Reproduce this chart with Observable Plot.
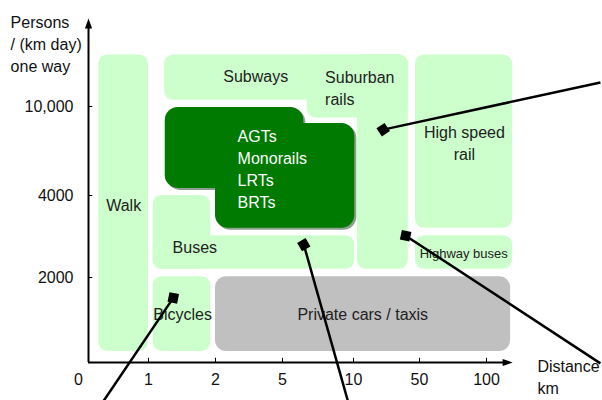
<!DOCTYPE html>
<html><head><meta charset="utf-8">
<script src="https://cdn.jsdelivr.net/npm/d3@7"></script>
<script src="https://cdn.jsdelivr.net/npm/@observablehq/plot@0.6"></script>
<style>body{margin:0;background:#fff}</style>
</head><body><div id="chart"></div>
<script>
// Axis categories (slot index -> label)
const xTickSlots = [0, 1, 2, 3, 4, 5, 6];
const xTickLabels = ["0", "1", "2", "5", "10", "50", "100"];
const yTickSlots = [1, 2, 3];
const yTickLabels = ["2000", "4000", "10,000"];
const axisOrigin = 0.143;   // where the axes cross (slot units)
const xAxisEnd = 6.30;
const yAxisEnd = 3.92;

// Ranges of each mode (slot units): distance range x1..x2, volume range y1..y2
const lightBoxes = [
  {name: "Walk",            x1: 0.29, x2: 1.00, y1: 0.13, y2: 3.58},
  {name: "Bicycles",        x1: 1.07, x2: 1.93, y1: 0.13, y2: 1.01},
  {name: "Buses (short)",   x1: 1.07, x2: 1.93, y1: 1.10, y2: 2.00},
  {name: "Buses",           x1: 1.07, x2: 4.02, y1: 1.10, y2: 1.51},
  {name: "Subways",         x1: 1.24, x2: 4.83, y1: 3.07, y2: 3.58},
  {name: "Subways (long)",  x1: 3.35, x2: 4.83, y1: 2.87, y2: 3.58},
  {name: "Suburban rails",  x1: 4.06, x2: 4.83, y1: 1.10, y2: 3.58},
  {name: "High speed rail", x1: 4.94, x2: 6.39, y1: 1.60, y2: 3.58},
  {name: "Highway buses",   x1: 4.94, x2: 6.39, y1: 1.10, y2: 1.51}
];
const greyBoxes = [
  {name: "Private cars / taxis", x1: 2.00, x2: 6.36, y1: 0.13, y2: 1.01}
];
const darkBoxes = [
  {name: "AGTs (short)", x1: 1.25, x2: 3.30, y1: 2.08, y2: 2.99},
  {name: "AGTs",         x1: 2.00, x2: 4.02, y1: 1.60, y2: 2.81}
];

// Labels (slot units)
const centerLabels = [
  {text: "Walk", x: 0.645, y: 1.90},
  {text: "Subways", x: 2.60, y: 3.35},
  {text: "High speed\nrail", x: 5.67, y: 2.60},
  {text: "Bicycles", x: 1.51, y: 0.58},
  {text: "Private cars / taxis", x: 4.14, y: 0.58}
];
const leftLabels = [
  {text: "Suburban\nrails", x: 3.60, y: 3.22},
  {text: "Buses", x: 1.36, y: 1.39}
];
const smallLabels = [
  {text: "Highway buses", x: 5.66, y: 1.29}
];
const whiteLabels = [
  {text: "AGTs\nMonorails\nLRTs\nBRTs", x: 2.33, y: 2.31}
];
const axisTitles = [
  {text: "Persons\n/ (km day)\none way", x: -0.97, y: 4.06},
  {text: "Distance\nkm", x: 6.76, y: 0.07}
];

// Leader lines: diamond end (x1,y1) to far end (x2,y2)
const pointers = [
  {x1: 4.45, y1: 2.74, x2: 7.70, y2: 3.27},
  {x1: 4.79, y1: 1.51, x2: 7.70, y2: -0.01},
  {x1: 3.30, y1: 1.40, x2: 3.92, y2: -0.45},
  {x1: 1.37, y1: 0.76, x2: 0.36, y2: -0.45}
];

const fontFamily = "'Liberation Sans', Arial, sans-serif";
const arrowHead = {draw(ctx) { ctx.moveTo(0, -6); ctx.lineTo(3.6, 4); ctx.lineTo(-3.6, 4); ctx.closePath(); }};
const angleOf = (p) => Math.atan2(-(p.y2 - p.y1) * 85, (p.x2 - p.x1) * 68) * 180 / Math.PI;

const chart = Plot.plot({
  width: 602,
  height: 400,
  marginLeft: 88,
  marginBottom: 38,
  marginTop: 0,
  marginRight: 0,
  style: {fontFamily, fontSize: "16px", color: "#111", background: "#fff"},
  x: {type: "linear", domain: xTickSlots, range: [78, 148, 215, 282, 353, 419, 486],
      ticks: xTickSlots, tickFormat: (d) => xTickLabels[d], tickSize: 0, tickPadding: 11, label: null},
  y: {type: "linear", domain: [0, 1, 2, 3], range: [362, 277, 195, 106],
      ticks: yTickSlots, tickFormat: (d) => yTickLabels[yTickSlots.indexOf(d)], tickSize: 0, tickPadding: 15, label: null},
  marks: [
    Plot.rect(lightBoxes, {x1: "x1", x2: "x2", y1: "y1", y2: "y2", fill: "#ccffcc", rx: 9}),
    Plot.rect(greyBoxes, {x1: "x1", x2: "x2", y1: "y1", y2: "y2", fill: "#c0c0c0", rx: 11}),
    Plot.rect(darkBoxes, {x1: "x1", x2: "x2", y1: "y1", y2: "y2", fill: "#406040", fillOpacity: 0.6, rx: 13, dx: 2, dy: 2}),
    Plot.rect(darkBoxes, {x1: "x1", x2: "x2", y1: "y1", y2: "y2", fill: "#007a00", rx: 13}),
    Plot.text(centerLabels, {x: "x", y: "y", text: "text", fill: "#222", fontSize: 16, lineHeight: 1.375}),
    Plot.text(leftLabels, {x: "x", y: "y", text: "text", fill: "#222", fontSize: 16, lineHeight: 1.375, textAnchor: "start"}),
    Plot.text(smallLabels, {x: "x", y: "y", text: "text", fill: "#222", fontSize: 13}),
    Plot.text(whiteLabels, {x: "x", y: "y", text: "text", fill: "#fff", fontSize: 16, lineHeight: 1.36, textAnchor: "start"}),
    Plot.text(axisTitles, {x: "x", y: "y", text: "text", fill: "#111", fontSize: 16, lineHeight: 1.375, textAnchor: "start", lineAnchor: "top"}),
    // axes
    Plot.ruleY([0], {x1: axisOrigin, x2: xAxisEnd, stroke: "#000", strokeWidth: 2}),
    Plot.ruleX([axisOrigin], {y1: 0, y2: yAxisEnd, stroke: "#000", strokeWidth: 2}),
    Plot.ruleX(xTickSlots.slice(1), {y1: 0, y2: 0.05, stroke: "#000", strokeWidth: 1}),
    Plot.ruleY(yTickSlots, {x1: axisOrigin, x2: axisOrigin + 0.06, stroke: "#000", strokeWidth: 1}),
    Plot.dot([{x: axisOrigin, y: yAxisEnd}], {x: "x", y: "y", symbol: arrowHead, fill: "#000", stroke: null}),
    Plot.dot([{x: xAxisEnd, y: 0}], {x: "x", y: "y", symbol: arrowHead, rotate: 90, fill: "#000", stroke: null}),
    // leader lines
    Plot.link(pointers, {x1: "x1", y1: "y1", x2: "x2", y2: "y2", stroke: "#000", strokeWidth: 2.5}),
    Plot.dot(pointers, {x: "x1", y: "y1", symbol: "square", r: 5.5, fill: "#000", stroke: null,
      rotate: (d) => 45 - angleOf(d)})
  ]
});
document.getElementById("chart").appendChild(chart);
</script>
</body></html>
